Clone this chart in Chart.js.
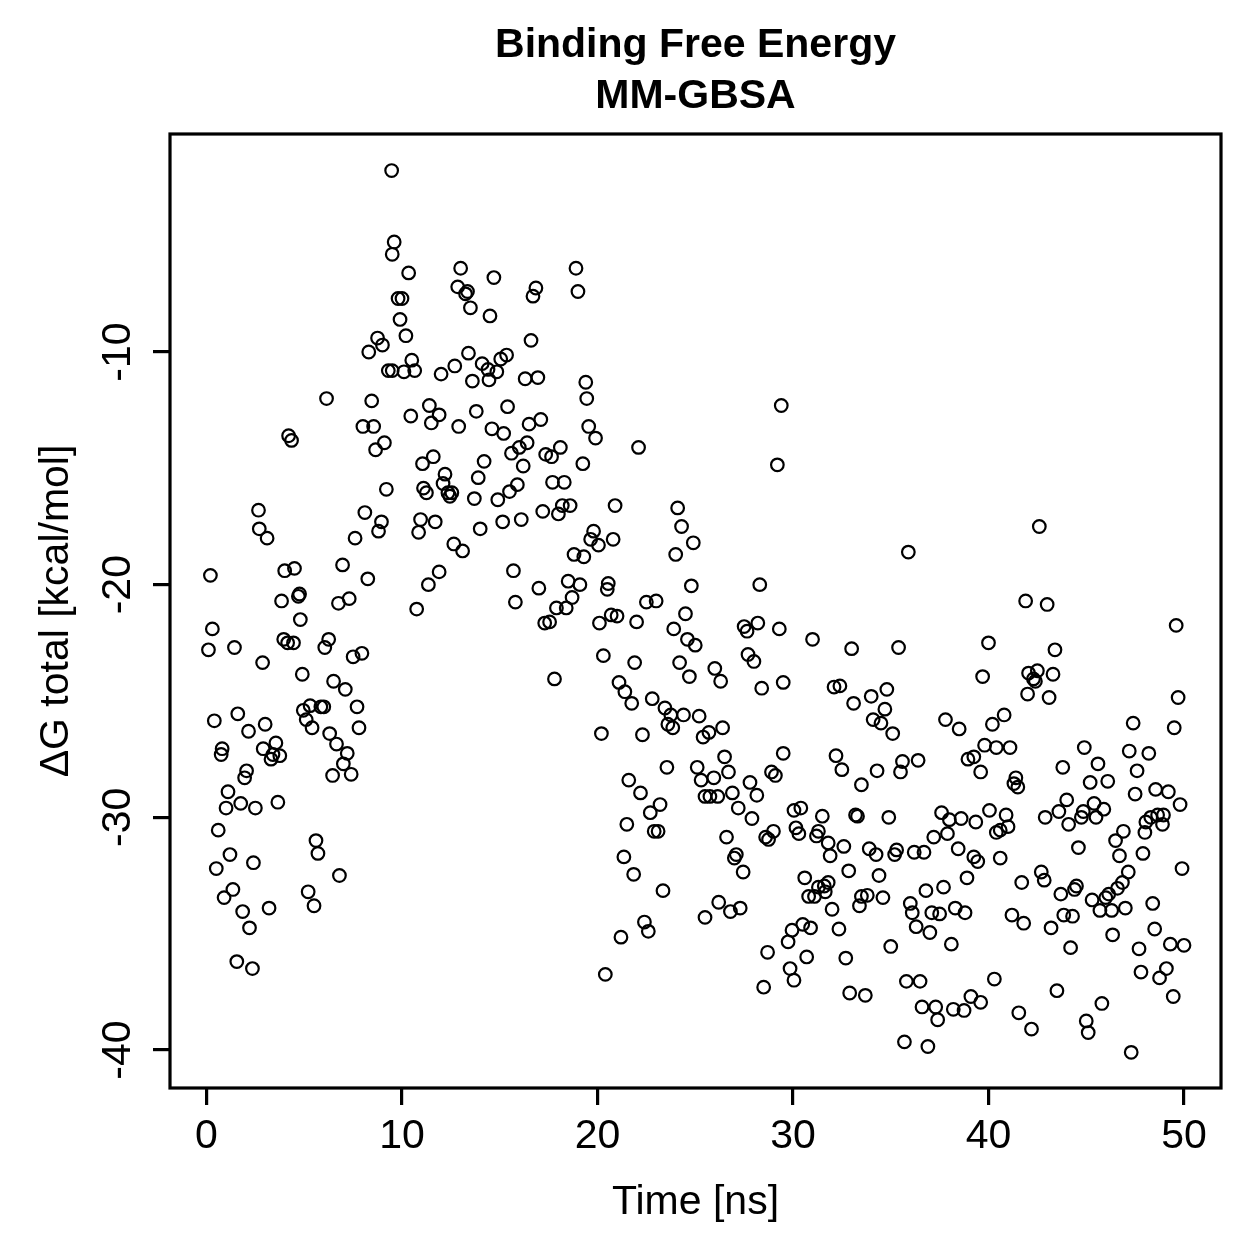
<!DOCTYPE html>
<html>
<head>
<meta charset="utf-8">
<script src="https://cdn.jsdelivr.net/npm/chart.js@4.4.1/dist/chart.umd.min.js"></script>
<style>
  html, body { margin: 0; background: #fff; }
  #wrap { width: 1259px; height: 1259px; }
</style>
</head>
<body>
<div id="wrap"><canvas id="mmgbsa" width="1259" height="1259"></canvas></div>
<script>
(function () {
  'use strict';

  var TITLE_LINES = ['Binding Free Energy', 'MM-GBSA'];
  var X_LABEL = 'Time [ns]';
  var Y_LABEL = 'ΔG total [kcal/mol]';
  var X_TICKS = [0, 10, 20, 30, 40, 50];
  var Y_TICKS = [-10, -20, -30, -40];

  // in ns
  var timeNs = [
    // 0-10 ns, upper part
    9.47, 9.6, 9.5, 8.75, 9.0, 8.3, 9.3, 9.5, 6.14, 8.45,
    8.0, 8.55, 9.1, 8.65, 4.2, 4.35, 9.2, 2.66, 2.7, 3.1,
    8.1, 8.95, 8.8, 7.6, 0.2, 4.0, 4.5, 6.96, 8.25, 3.84,
    4.7, 4.76, 6.75, 7.3,
    // 10-20 ns, upper part
    10.34, 13.0, 14.7, 18.9, 19.0, 12.85, 13.35, 13.25, 13.5, 16.85,
    16.7, 9.8, 10.0, 9.9, 10.2, 14.5, 16.6, 10.5, 10.1, 10.65,
    12.0, 12.7, 13.4, 14.1, 14.4, 13.6, 14.45, 14.85, 15.05, 15.35,
    16.3, 16.95, 19.4, 19.45, 11.4, 11.9, 10.45, 11.5, 12.9, 13.8,
    14.6, 15.2, 15.4, 16.5, 17.1, 19.55, 11.6, 11.05, 14.2, 13.9,
    15.6, 16.0, 16.4, 16.2, 17.35, 17.65, 18.1, 19.25, 12.2, 11.1,
    11.25, 12.1, 12.35, 12.45, 12.55, 13.7, 14.9, 15.5, 15.9, 17.7,
    18.3, 17.2, 18.0, 18.2, 18.6, 10.95, 10.85, 11.7, 14.0, 15.15,
    16.1, 12.65, 13.1, 18.8, 19.3, 11.9, 11.35, 15.7, 15.8, 17.0,
    18.5, 19.1, 18.7, 10.75, 17.9, 18.4,
    // 20-50 ns, upper part
    19.9, 22.1, 29.4, 29.2, 20.9, 24.1, 24.3, 24.9, 24.0, 19.8,
    19.65, 20.05, 20.8, 20.55, 20.5, 24.8, 28.3, 22.5, 23.0, 35.9,
    42.6, 41.9, 43.0,
    // 0-10 ns, lower part
    4.8, 0.3, 0.1, 1.43, 2.87, 3.95, 4.15, 4.45, 6.25, 6.05,
    4.9, 7.95, 7.5, 6.5, 7.1, 7.7, 7.8, 4.95, 5.3, 5.1,
    5.4, 5.85, 6.0, 6.3, 6.65, 7.2, 7.0, 6.45, 7.4, 0.4,
    1.6, 2.15, 3.0, 3.55, 2.9, 3.4, 3.75, 3.3, 0.8, 0.75,
    2.05, 1.95, 1.1, 1.0, 1.75, 2.5, 3.65, 0.6, 5.6, 5.7,
    1.2, 2.4, 0.5, 6.8, 1.35, 0.9, 5.2, 5.5, 1.85, 3.2,
    2.2, 1.55, 2.35,
    17.3, 17.55, 17.8,
    // 20-30 ns
    20.1, 20.7, 21.0, 22.0, 24.5, 23.9, 24.6, 25.0, 27.5, 27.65,
    28.2, 29.3, 20.3, 21.9, 24.2, 24.7, 27.7, 28.0, 26.0, 26.3,
    28.4, 29.5, 21.1, 21.4, 21.75, 22.8, 23.45, 23.75, 23.6, 23.85,
    24.4, 25.2, 20.2, 22.3, 25.4, 25.7, 26.4, 29.5, 23.55, 25.1,
    25.3, 25.95, 26.5, 26.7, 21.6, 22.2, 23.2, 22.7, 25.5, 25.75,
    26.15, 26.9, 27.8, 28.15, 27.2, 27.9, 28.9, 29.1, 21.5, 22.9,
    23.1, 26.6, 28.6, 28.75, 29.0, 21.35, 21.85, 23.35, 27.1, 27.0,
    27.45, 26.2, 26.8, 27.3, 25.5, 22.4, 22.6, 21.2, 20.4, 28.7,
    28.5,
    // 30-40 ns
    31.0, 33.0, 35.4, 32.1, 32.4, 33.1, 34.0, 34.8, 34.7, 34.1,
    34.5, 35.1, 37.8, 38.5, 39.7, 39.8, 32.2, 32.5, 33.5, 34.3,
    35.6, 35.5, 36.4, 38.95, 39.25, 39.6, 30.05, 30.4, 31.5, 33.2,
    33.3, 34.9, 37.6, 38.0, 38.6, 39.35, 30.15, 30.3, 31.3, 31.2,
    31.8, 31.9, 32.6, 33.9, 34.25, 35.3, 35.2, 36.2, 36.7, 37.2,
    37.9, 38.45, 39.25, 39.45, 30.6, 31.3, 31.6, 31.8, 31.65, 30.8,
    31.1, 32.85, 34.4, 33.5, 33.8, 33.4, 34.6, 32.0, 36.0, 36.1,
    36.8, 37.7, 37.1, 37.5, 38.3, 38.8, 38.9, 36.3, 37.0, 38.1,
    30.5, 30.9, 29.95, 29.75, 32.35, 35.0, 30.7, 32.7, 29.85, 30.05,
    35.8, 36.5, 32.9, 33.7, 36.6, 37.3, 37.4, 38.2, 38.75, 39.1,
    39.6, 35.7, 36.9,
    // 40-50 ns
    49.6, 40.0, 43.4, 42.05, 42.5, 42.3, 42.4, 43.3, 42.0, 43.1,
    49.7, 40.8, 40.2, 47.4, 49.5, 40.4, 41.1, 44.9, 47.2, 48.2,
    45.6, 43.8, 47.6, 45.2, 46.1, 41.4, 41.3, 41.5, 47.5, 48.55,
    49.2, 49.8, 40.05, 40.9, 41.0, 40.6, 40.4, 44.0, 43.6, 42.9,
    44.1, 44.85, 44.75, 45.4, 45.9, 45.5, 46.9, 46.5, 46.7, 48.05,
    48.3, 48.65, 48.95, 48.9, 48.0, 47.9, 44.6, 40.6, 49.9, 47.15,
    46.85, 46.6, 46.15, 46.0, 45.3, 48.4, 47.0, 46.3, 45.7, 42.7,
    42.85, 41.7, 43.7, 44.4, 44.5, 41.2, 41.8, 43.85, 44.3, 43.2,
    46.35, 48.5, 49.3, 50.0, 44.2, 47.7, 47.8, 49.1, 48.75, 49.45,
    40.3, 43.5, 45.8, 41.55, 42.2, 45.0, 45.1, 47.3
  ];

  // same order as timeNs, kcal/mol
  var dgTotal = [
    -2.2, -5.27, -5.8, -9.4, -9.7, -10.0, -10.8, -10.8, -12.0, -12.1,
    -13.2, -13.2, -13.9, -14.2, -13.6, -13.8, -15.9, -16.8, -17.6, -18.0,
    -16.9, -17.3, -17.7, -18.0, -19.6, -19.4, -19.3, -19.15, -19.75, -20.7,
    -20.5, -20.4, -20.8, -20.6,
    -6.6, -6.4, -6.8, -6.4, -7.4, -7.2, -7.4, -7.5, -8.1, -7.25,
    -7.6, -7.7, -7.7, -8.6, -9.3, -8.45, -9.5, -10.35, -10.85, -10.8,
    -10.95, -10.6, -10.05, -10.5, -10.75, -11.25, -11.2, -10.85, -10.3, -10.13,
    -11.15, -11.1, -11.3, -12.0, -12.3, -12.7, -12.75, -13.05, -13.2, -12.55,
    -13.3, -13.5, -12.35, -13.1, -12.9, -13.2, -14.5, -14.8, -14.7, -15.4,
    -14.35, -14.1, -13.9, -14.9, -14.4, -14.5, -14.1, -14.8, -15.25, -15.85,
    -16.05, -15.65, -16.05, -16.2, -16.05, -16.3, -16.35, -16.0, -15.7, -15.6,
    -15.6, -16.85, -16.96, -16.6, -16.6, -17.2, -17.75, -17.3, -17.6, -17.3,
    -17.2, -18.25, -18.55, -18.7, -18.8, -19.45, -20.0, -19.4, -20.75, -20.15,
    -19.85, -20.0, -20.55, -21.05, -21.0, -21.0,
    -13.7, -14.1, -12.3, -14.85, -16.6, -16.7, -17.5, -18.2, -18.7, -17.7,
    -18.05, -18.3, -18.05, -19.95, -20.2, -20.05, -20.0, -20.75, -20.7, -18.6,
    -17.5, -20.7, -20.85,
    -21.5, -21.9, -22.8, -22.7, -23.35, -22.35, -22.5, -22.5, -22.35, -22.7,
    -23.85, -22.95, -23.1, -24.15, -24.5, -25.25, -26.15, -25.4, -25.2, -25.8,
    -26.15, -25.25, -25.25, -26.4, -26.85, -27.25, -27.7, -28.2, -28.15, -25.85,
    -25.55, -26.3, -26.0, -26.8, -27.05, -27.3, -27.35, -27.5, -27.05, -27.3,
    -28.0, -28.3, -28.9, -29.6, -29.4, -29.6, -29.35, -30.55, -31.0, -31.55,
    -31.6, -31.95, -32.2, -32.5, -33.1, -33.45, -33.2, -33.8, -34.05, -33.9,
    -34.75, -36.2, -36.5,
    -21.65, -21.6, -24.05,
    -21.65, -21.3, -21.35, -21.6, -21.25, -21.9, -22.35, -22.6, -21.8, -22.0,
    -21.65, -21.9, -23.05, -23.35, -23.35, -23.95, -23.0, -23.3, -23.6, -24.15,
    -24.45, -24.2, -24.2, -24.6, -25.1, -24.9, -25.3, -25.6, -26.0, -26.15,
    -25.6, -25.65, -26.4, -26.45, -26.55, -26.35, -26.15, -27.25, -27.85, -27.85,
    -28.4, -28.3, -27.4, -28.05, -28.4, -28.95, -29.45, -29.8, -29.1, -29.1,
    -29.1, -28.95, -28.5, -29.05, -29.6, -30.05, -28.05, -28.2, -30.3, -30.6,
    -30.6, -30.85, -30.85, -30.95, -30.6, -31.7, -32.45, -33.15, -31.6, -31.75,
    -32.35, -33.65, -34.05, -33.9, -34.3, -34.5, -34.9, -35.15, -36.75, -35.8,
    -37.3,
    -22.35, -22.75, -22.7, -24.4, -24.35, -25.1, -24.8, -24.5, -25.35, -25.8,
    -25.95, -26.4, -25.8, -26.2, -23.95, -26.9, -27.35, -27.95, -28.6, -28.0,
    -27.6, -28.05, -27.55, -27.5, -27.4, -28.05, -29.7, -29.6, -29.95, -29.9,
    -29.95, -30.0, -29.8, -30.1, -30.05, -30.2, -30.45, -30.7, -30.6, -30.8,
    -31.1, -31.65, -31.25, -31.35, -31.6, -31.4, -31.6, -31.5, -31.5, -30.85,
    -30.7, -31.35, -31.7, -31.9, -32.6, -33.0, -32.95, -32.8, -33.2, -33.4,
    -33.4, -32.3, -32.5, -33.4, -33.35, -33.8, -33.45, -33.95, -33.7, -34.1,
    -33.15, -33.0, -34.1, -34.15, -33.9, -34.1, -32.6, -34.7, -34.95, -35.45,
    -34.6, -34.75, -34.85, -35.35, -34.8, -35.55, -36.0, -36.05, -36.5, -37.0,
    -37.05, -37.05, -37.55, -37.65, -38.15, -38.15, -38.7, -38.25, -38.3, -37.7,
    -37.95, -39.65, -39.85,
    -21.75, -22.5, -22.8, -23.8, -23.7, -24.05, -24.15, -23.85, -24.7, -24.85,
    -24.85, -25.6, -26.0, -25.95, -26.15, -27.0, -27.0, -27.0, -27.15, -27.25,
    -27.7, -27.85, -28.0, -28.5, -28.45, -28.3, -28.55, -28.7, -29.0, -28.8,
    -28.9, -29.45, -29.7, -29.9, -30.4, -30.55, -30.65, -29.25, -29.75, -30.0,
    -30.3, -29.75, -30.0, -29.4, -29.65, -30.0, -30.6, -31.0, -31.65, -30.2,
    -30.0, -29.9, -29.9, -30.3, -30.65, -31.55, -31.3, -31.75, -32.2, -32.35,
    -32.8, -33.05, -33.3, -33.45, -33.55, -33.7, -33.9, -34.0, -34.0, -32.35,
    -32.7, -32.8, -33.3, -33.1, -32.95, -34.2, -34.55, -34.2, -34.25, -34.75,
    -35.05, -34.8, -35.45, -35.5, -35.6, -35.65, -36.65, -36.5, -36.9, -37.7,
    -36.95, -37.45, -38.0, -38.4, -39.1, -38.75, -39.25, -40.1
  ];

  var FONT = '"Liberation Sans", Arial, Helvetica, sans-serif';

  // R style frame around the plot region, and the main title centred on it
  var framePlugin = {
    id: 'rFrame',
    afterDraw: function (chart) {
      var a = chart.chartArea;
      var ctx = chart.ctx;
      ctx.save();
      ctx.strokeStyle = '#000';
      ctx.lineWidth = 3.2;
      ctx.strokeRect(a.left, a.top, a.right - a.left, a.bottom - a.top);
      ctx.fillStyle = '#000';
      ctx.font = 'bold 41px ' + FONT;
      ctx.textAlign = 'center';
      ctx.textBaseline = 'middle';
      var cx = (a.left + a.right) / 2;
      TITLE_LINES.forEach(function (line, i) { ctx.fillText(line, cx, 46 + i * 51); });
      ctx.restore();
    }
  };

  function tickGrid() {
    return {display: true, drawOnChartArea: false, drawTicks: true, tickLength: 17, tickWidth: 3.2, tickColor: '#000', color: '#000', lineWidth: 3.2};
  }

  var points = timeNs.map(function (t, i) { return {x: t, y: dgTotal[i]}; });

  new Chart(document.getElementById('mmgbsa'), {
    type: 'scatter',
    data: {datasets: [{
      data: points,
      pointStyle: 'circle',
      pointRadius: 6.3,
      pointHoverRadius: 6.3,
      pointBorderWidth: 2.2,
      pointBackgroundColor: 'rgba(0,0,0,0)',
      pointBorderColor: '#000'
    }]},
    options: {
      responsive: false,
      animation: false,
      events: [],
      layout: {padding: {left: 0, right: 38, top: 134, bottom: 0}},
      plugins: {
        legend: {display: false},
        tooltip: {enabled: false},
        title: {display: false}
      },
      scales: {
        x: {
          type: 'linear', position: 'bottom', min: -1.867, max: 51.893,
          afterBuildTicks: function (s) { s.ticks = X_TICKS.map(function (v) { return {value: v}; }); },
          afterFit: function (s) { s.height = 171; },
          grid: tickGrid(),
          border: {display: false},
          ticks: {color: '#000', font: {family: FONT, size: 41}, padding: 6.7, maxRotation: 0, autoSkip: false, callback: function (v) { return String(v); }},
          title: {display: true, text: X_LABEL, color: '#000', font: {family: FONT, size: 41}, padding: {top: 0, bottom: 32}}
        },
        y: {
          type: 'linear', position: 'left', min: -41.633, max: -0.63,
          afterBuildTicks: function (s) { s.ticks = Y_TICKS.map(function (v) { return {value: v}; }); },
          afterFit: function (s) { s.width = 170; },
          grid: tickGrid(),
          border: {display: false},
          ticks: {color: '#000', font: {family: FONT, size: 41}, padding: 5, minRotation: 90, maxRotation: 90, crossAlign: 'center', autoSkip: false, callback: function (v) { return String(v); }},
          title: {display: true, text: Y_LABEL, color: '#000', font: {family: FONT, size: 41}, padding: {top: 31.7, bottom: 0}}
        }
      }
    },
    plugins: [framePlugin]
  });
}());
</script>
</body>
</html>
